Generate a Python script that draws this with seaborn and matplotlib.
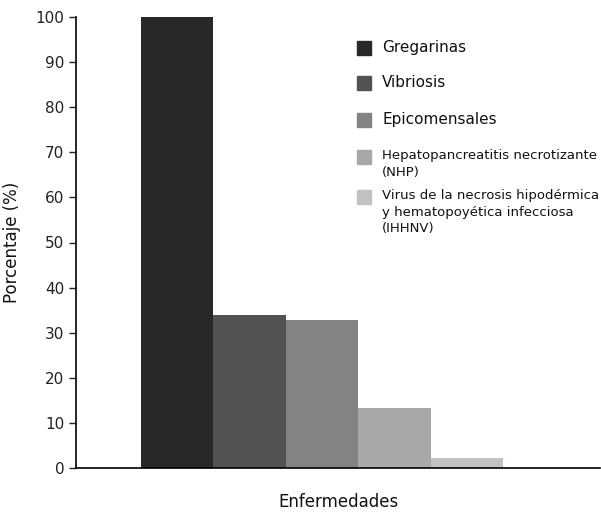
import numpy as np
import pandas as pd
import matplotlib
matplotlib.use("Agg")
import matplotlib.pyplot as plt
import seaborn as sns
from matplotlib.patches import Rectangle

# datos
enfermedades = ["Gregarinas", "Vibriosis", "Epicomensales",
                "Hepatopancreatitis necrotizante\n(NHP)",
                "Virus de la necrosis hipodérmica\ny hematopoyética infecciosa\n(IHHNV)"]
porcentaje = [100, 33.9, 32.8, 13.4, 2.2]
colores = ["#282828", "#525252", "#838383", "#a8a8a8", "#c5c1c1"]
yticks = [0, 10, 20, 30, 40, 50, 60, 70, 80, 90, 100]

df = pd.DataFrame({"Enfermedad": enfermedades, "Porcentaje": porcentaje})

sns.set_style("white")
plt.rcParams["font.family"] = ["DejaVu Sans"]

W, H = 601, 512
fig = plt.figure(figsize=(W / 100, H / 100), dpi=100)
ax = fig.add_axes([76 / W, 1 - 468 / H, 524 / W, 451 / H])

sns.barplot(data=df, x="Enfermedad", y="Porcentaje", hue="Enfermedad",
            palette=colores, width=1.0, dodge=False, legend=False,
            saturation=1, linewidth=0, ax=ax)

ax.set_xlim(-1.397, 5.84)
ax.set_ylim(0, 100)
ax.set_yticks(yticks)
ax.set_xticks([])
ax.tick_params(axis="y", direction="out", length=5, width=1, labelsize=11,
               colors="#222222", left=True)
ax.set_xlabel("Enfermedades", fontsize=12, labelpad=18, color="#111111")
ax.set_ylabel("Porcentaje (%)", fontsize=12, labelpad=10, color="#111111")

for s in ["top", "right"]:
    ax.spines[s].set_visible(False)
ax.spines["left"].set_color("black")
ax.spines["bottom"].set_color("black")
ax.spines["left"].set_linewidth(1.2)
ax.spines["bottom"].set_linewidth(1.2)

# leyenda manual
leg_y = [48, 83, 120, 157, 197]
leg_fs = [11, 11, 11, 9.5, 9.5]
leg_ls = [1.2, 1.2, 1.2, 1.37, 1.37]
for nombre, c, yy, fs, ls in zip(enfermedades, colores, leg_y, leg_fs, leg_ls):
    fig.patches.append(Rectangle((357 / W, 1 - (yy + 7) / H), 14 / W, 14 / H,
                                 transform=fig.transFigure, color=c))
    fig.text(382 / W, 1 - (yy - 8) / H, nombre, fontsize=fs, va="top",
             ha="left", linespacing=ls, color="#111111")

fig.savefig("out.png", dpi=100)
